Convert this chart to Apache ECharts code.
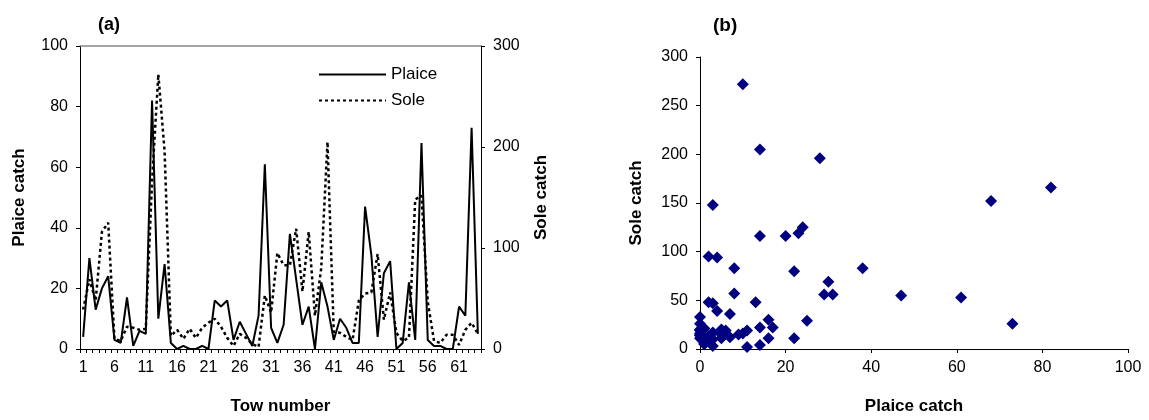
<!DOCTYPE html>
<html>
<head>
<meta charset="utf-8">
<script src="https://cdn.jsdelivr.net/npm/echarts@6/dist/echarts.min.js"></script>
<style>
  html, body { margin: 0; padding: 0; background: #fff; }
  #chart { width: 1149px; height: 420px; }
</style>
</head>
<body>
<div id="chart"></div>
<script>
// tow numbers 1..64
var tows = ['1','2','3','4','5','6','7','8','9','10','11','12','13','14','15','16',
  '17','18','19','20','21','22','23','24','25','26','27','28','29','30','31','32',
  '33','34','35','36','37','38','39','40','41','42','43','44','45','46','47','48',
  '49','50','51','52','53','54','55','56','57','58','59','60','61','62','63','64']

// plaice catch per tow (left axis)
var plaice = [4, 30, 13, 20, 24, 3, 2, 17, 1, 6, 5, 82, 10, 28, 2, 0,
  1, 0, 0, 1, 0, 16, 14, 16, 3, 9, 5, 1, 11, 61, 7, 2,
  8, 38, 23, 8, 14, 0, 22, 14, 3, 10, 7, 2, 2, 47, 31, 4,
  25, 29, 0, 2, 22, 3, 68, 3, 1, 1, 0, 0, 14, 11, 73, 5]

// sole catch per tow (right axis)
var sole = [39, 69, 48, 116, 125, 10, 8, 22, 21, 19, 20, 166, 272, 196, 13, 19,
  10, 20, 11, 21, 26, 30, 22, 11, 3, 15, 11, 5, 2, 53, 36, 95,
  83, 83, 119, 57, 116, 33, 80, 205, 17, 16, 12, 9, 48, 55, 56, 94,
  29, 56, 16, 8, 11, 148, 152, 47, 8, 6, 14, 14, 4, 19, 26, 15]

var plaiceTicks = [0, 100, 20]
var soleTicks = [0, 300, 100]
var scatterXTicks = [0, 100, 20]
var scatterYTicks = [0, 300, 50]

var font = '"Liberation Sans", Arial, sans-serif'
var labelStyle = { color: '#000', fontSize: 16, fontFamily: font }
var nameStyle = { color: '#000', fontSize: 17, fontWeight: 'bold', fontFamily: font }
var blackLine = { show: true, lineStyle: { color: '#000', width: 1 } }
var ticks = { show: true, length: 4, lineStyle: { color: '#000', width: 1 } }

var pairs = plaice.map(function (p, i) { return [p, sole[i]] })

var chart = echarts.init(document.getElementById('chart'), null, { renderer: 'canvas' })
chart.setOption({
  backgroundColor: '#fff',
  animation: false,
  textStyle: { fontFamily: font },
  title: [
    { text: '(a)', left: 93, top: 11, textStyle: { fontSize: 18, fontWeight: 'bold', color: '#000', fontFamily: font } },
    { text: '(b)', left: 708, top: 11, textStyle: { fontSize: 19, fontWeight: 'bold', color: '#000', fontFamily: font } }
  ],
  legend: {
    data: ['Plaice', 'Sole'],
    orient: 'vertical',
    left: 313,
    top: 61,
    itemWidth: 67,
    itemHeight: 14,
    itemGap: 9,
    itemStyle: { opacity: 0 },
    textStyle: { color: '#000', fontSize: 17, fontFamily: font }
  },
  grid: [
    { left: 80, top: 46, width: 401, height: 307 },
    { left: 700, top: 57, width: 428, height: 296 }
  ],
  xAxis: [
    {
      gridIndex: 0,
      type: 'category',
      data: tows,
      boundaryGap: true,
      axisLine: blackLine,
      axisTick: { show: true, interval: 0, length: 4, lineStyle: { color: '#000' } },
      axisLabel: Object.assign({ interval: 4, margin: 11 }, labelStyle),
      splitLine: { show: false },
      name: 'Tow number',
      nameLocation: 'middle',
      nameGap: 49,
      nameTextStyle: nameStyle
    },
    {
      // grey frame line on top of panel (a)
      gridIndex: 0,
      type: 'category',
      data: tows,
      position: 'top',
      axisLine: { show: true, onZero: false, lineStyle: { color: '#888', width: 1.5 } },
      axisTick: { show: false },
      axisLabel: { show: false },
      splitLine: { show: false }
    },
    {
      gridIndex: 1,
      type: 'value',
      min: scatterXTicks[0],
      max: scatterXTicks[1],
      interval: scatterXTicks[2],
      axisLine: blackLine,
      axisTick: ticks,
      axisLabel: Object.assign({ margin: 11 }, labelStyle),
      splitLine: { show: false },
      name: 'Plaice catch',
      nameLocation: 'middle',
      nameGap: 49,
      nameTextStyle: nameStyle
    }
  ],
  yAxis: [
    {
      gridIndex: 0,
      type: 'value',
      position: 'left',
      min: plaiceTicks[0],
      max: plaiceTicks[1],
      interval: plaiceTicks[2],
      axisLine: blackLine,
      axisTick: ticks,
      axisLabel: Object.assign({ margin: 12 }, labelStyle),
      splitLine: { show: false },
      name: 'Plaice catch',
      nameLocation: 'middle',
      nameGap: 52,
      nameTextStyle: nameStyle
    },
    {
      gridIndex: 0,
      type: 'value',
      position: 'right',
      min: soleTicks[0],
      max: soleTicks[1],
      interval: soleTicks[2],
      axisLine: blackLine,
      axisTick: ticks,
      axisLabel: Object.assign({ margin: 12 }, labelStyle),
      splitLine: { show: false },
      name: 'Sole catch',
      nameLocation: 'middle',
      nameGap: 52,
      nameTextStyle: nameStyle
    },
    {
      gridIndex: 1,
      type: 'value',
      min: scatterYTicks[0],
      max: scatterYTicks[1],
      interval: scatterYTicks[2],
      axisLine: blackLine,
      axisTick: ticks,
      axisLabel: Object.assign({ margin: 12 }, labelStyle),
      splitLine: { show: false },
      name: 'Sole catch',
      nameLocation: 'middle',
      nameGap: 55,
      nameTextStyle: nameStyle
    }
  ],
  series: [
    {
      name: 'Plaice',
      type: 'line',
      xAxisIndex: 0,
      yAxisIndex: 0,
      data: plaice,
      symbol: 'none',
      lineStyle: { color: '#000', width: 2 },
      itemStyle: { color: '#000' }
    },
    {
      name: 'Sole',
      type: 'line',
      xAxisIndex: 0,
      yAxisIndex: 1,
      data: sole,
      symbol: 'none',
      lineStyle: { color: '#000', width: 2.5, type: [3, 3] },
      itemStyle: { color: '#000' }
    },
    {
      name: 'Tows',
      type: 'scatter',
      xAxisIndex: 2,
      yAxisIndex: 2,
      data: pairs,
      symbol: 'diamond',
      symbolSize: 12,
      itemStyle: { color: '#000080', opacity: 1 }
    }
  ]
})
</script>
</body>
</html>
